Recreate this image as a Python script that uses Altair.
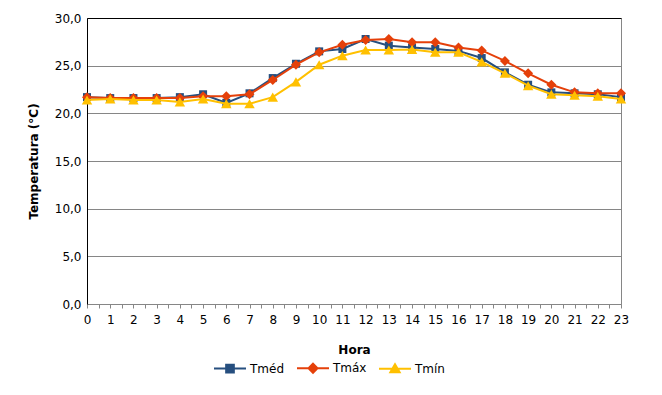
import altair as alt
import pandas as pd

horas = list(range(24))
series = ["Tméd", "Tmáx", "Tmín"]
cores = ["#264F7F", "#E5400A", "#FFC000"]
formas = ["square", "diamond", "triangle-up"]
tamanhos = [64, 100, 110]
formas_legenda = [
    "M-1,0H1M-0.24,-0.24H0.24V0.24H-0.24Z",
    "M-1,0H1M0,-0.28L0.28,0L0,0.28L-0.28,0Z",
    "M-1,0H1M0,-0.27L0.29,0.23L-0.29,0.23Z",
]

tmed = [21.7, 21.6, 21.6, 21.6, 21.7, 22.0, 21.1, 22.1, 23.7, 25.2, 26.5, 26.75,
        27.8, 27.1, 26.9, 26.75, 26.55, 25.8, 24.3, 23.0, 22.2, 22.1, 22.0, 21.7]
tmax = [21.7, 21.6, 21.6, 21.6, 21.6, 21.8, 21.8, 22.0, 23.5, 25.1, 26.4, 27.2,
        27.7, 27.8, 27.45, 27.45, 26.9, 26.6, 25.5, 24.2, 23.0, 22.2, 22.1, 22.1]
tmin = [21.4, 21.5, 21.4, 21.4, 21.2, 21.5, 21.0, 21.0, 21.7, 23.3, 25.1, 26.05,
        26.65, 26.65, 26.7, 26.4, 26.4, 25.4, 24.2, 22.9, 22.0, 21.9, 21.8, 21.5]

df = pd.DataFrame({
    "Hora": horas * 3,
    "Serie": [s for s in series for _ in horas],
    "Temp": tmed + tmax + tmin,
})

FONT = "DejaVu Sans"

x = alt.X(
    "Hora:Q",
    scale=alt.Scale(domain=[0, 23], nice=False, zero=False),
    axis=alt.Axis(
        title="Hora",
        values=[i / 2 for i in range(47)],
        labelExpr="datum.value % 1 == 0 ? format(datum.value, 'd') : ''",
        grid=False,
        domainColor="#868686",
        tickColor="#868686",
        tickSize=4,
        labelPadding=6,
        titlePadding=19,
        labelOverlap=False,
        labelFlush=False,
    ),
)
y = alt.Y(
    "Temp:Q",
    scale=alt.Scale(domain=[0, 30], nice=False),
    axis=alt.Axis(
        title="Temperatura (°C)",
        values=[0, 5, 10, 15, 20, 25, 30],
        labelExpr="replace(format(datum.value, '.1f'), '.', ',')",
        ticks=False,
        domainColor="#000000",
        gridColor={"condition": {"test": "datum.value == 30", "value": "#000000"}, "value": "#868686"},
        labelPadding=6,
        titlePadding=14,
        labelFlush=False,
    ),
)

base = alt.Chart(df)
layers = []
for s, c, f, sz in zip(series, cores, formas, tamanhos):
    sub = base.transform_filter(alt.datum.Serie == s)
    layers.append(sub.mark_line(color=c, strokeWidth=2).encode(x=x, y=y))
    layers.append(
        sub.mark_point(filled=True, shape=f, size=sz, color=c, opacity=1).encode(x=x, y=y)
    )

leg = alt.Legend(
    title=None,
    orient="none",
    direction="horizontal",
    legendX=126,
    legendY=333,
    symbolSize=1024,
    symbolStrokeWidth=2,
    labelOffset=3,
    columnPadding=8,
    padding=0,
)
dom = alt.Scale(domain=series, range=cores)
legend_layer = base.mark_point(clip=True, opacity=1, strokeWidth=2).encode(
    x=alt.value(-200),
    y=alt.value(-200),
    fill=alt.Fill("Serie:N", scale=dom, legend=leg),
    stroke=alt.Stroke("Serie:N", scale=dom, legend=leg),
    shape=alt.Shape("Serie:N", scale=alt.Scale(domain=series, range=formas_legenda), legend=leg),
)
layers.append(legend_layer)

chart = (
    alt.layer(*layers)
    .properties(
        width=534,
        height=286,
        autosize=alt.AutoSizeParams(type="none"),
        padding={"left": 79, "top": 10, "right": 33, "bottom": 83},
    )
    .configure_view(stroke="#868686")
    .configure_axis(
        labelFont=FONT,
        labelFontSize=12,
        labelColor="#000000",
        titleFont=FONT,
        titleFontSize=12,
        titleFontWeight="bold",
        titleColor="#000000",
    )
    .configure_legend(labelFont=FONT, labelFontSize=12, labelColor="#000000")
)

chart.save("out.html", embed_options={"renderer": "svg", "actions": False})
